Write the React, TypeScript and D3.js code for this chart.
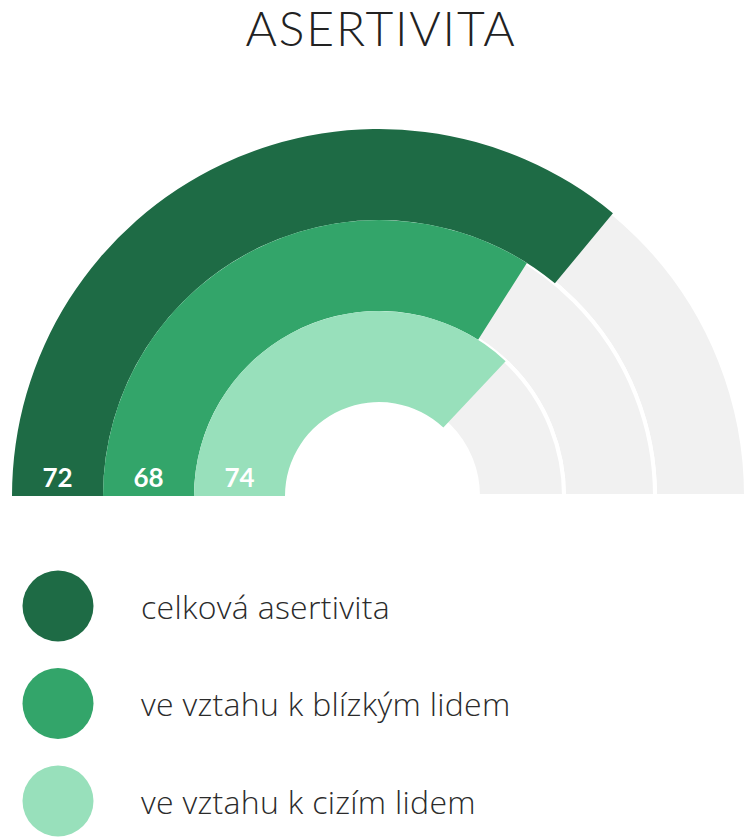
import React from 'react';
import * as d3 from 'd3';

const categories = ['celková asertivita', 've vztahu k blízkým lidem', 've vztahu k cizím lidem'];
const values = [72, 68, 74];
const maxValue = 100;
const title = 'ASERTIVITA';

const palette = ['#1e6b45', '#33a56a', '#98e0bb'];
const trackColor = '#f1f1f1';

const width = 753;
const height = 840;
const cx = 379;
const cy = 496;

const App: React.FC = () => {
  const angle = d3.scaleLinear()
    .domain([0, maxValue])
    .range([-Math.PI / 2, Math.PI / 2]);

  const radius = d3.scaleBand<string>()
    .domain(categories)
    .range([367, 94])
    .paddingInner(0);

  const arc = d3.arc<{ inner: number; outer: number; start: number; end: number }>()
    .innerRadius(d => d.inner)
    .outerRadius(d => d.outer)
    .startAngle(d => d.start)
    .endAngle(d => d.end);

  const legendY = d3.scalePoint<string>()
    .domain(categories)
    .range([606, 801]);

  // the grey tracks sit slightly off the hole on the inner side
  const trackInner = (c: string) => radius(c)! + (c === categories[categories.length - 1] ? 5 : 0);

  return (
    <svg
      width={width}
      height={height}
      style={{ position: 'absolute', left: 0, top: 0, fontVariantLigatures: 'none' }}
      fontFamily="Lato, 'Noto Sans', sans-serif"
    >
      <text x={381} y={46} textAnchor="middle" fontSize={48} fontWeight={300} fill="#222" letterSpacing={1.8}>
        {title}
      </text>

      <g transform={`translate(${cx},${cy})`}>
        {/* background tracks */}
        {categories.map(c => (
          <path
            key={'track-' + c}
            d={arc({ inner: trackInner(c), outer: radius(c)! + radius.bandwidth(), start: angle(0), end: angle(maxValue) }) || ''}
            fill={trackColor}
            stroke="#fff"
            strokeWidth={4}
          />
        ))}
        {/* value bars */}
        {categories.map((c, i) => (
          <path
            key={'bar-' + c}
            d={arc({ inner: radius(c)!, outer: radius(c)! + radius.bandwidth(), start: angle(0), end: angle(values[i]) }) || ''}
            fill={palette[i]}
          />
        ))}
        {categories.map((c, i) => (
          <text
            key={'lbl-' + c}
            x={-(radius(c)! + radius.bandwidth() / 2)}
            y={-9}
            textAnchor="middle"
            fontSize={26}
            fontWeight={700}
            fill="#fff"
          >
            {values[i]}
          </text>
        ))}
      </g>

      {categories.map((c, i) => (
        <g key={'leg-' + c} transform={`translate(0,${legendY(c)})`}>
          <circle cx={58} cy={0} r={35.5} fill={palette[i]} />
          <text
            x={141}
            y={12.5}
            fontSize={32}
            fontWeight={300}
            fill="#2b2b2b"
            letterSpacing={0.3}
            fontFamily="'Open Sans', Lato, sans-serif"
          >
            {c}
          </text>
        </g>
      ))}
    </svg>
  );
};

export default App;
